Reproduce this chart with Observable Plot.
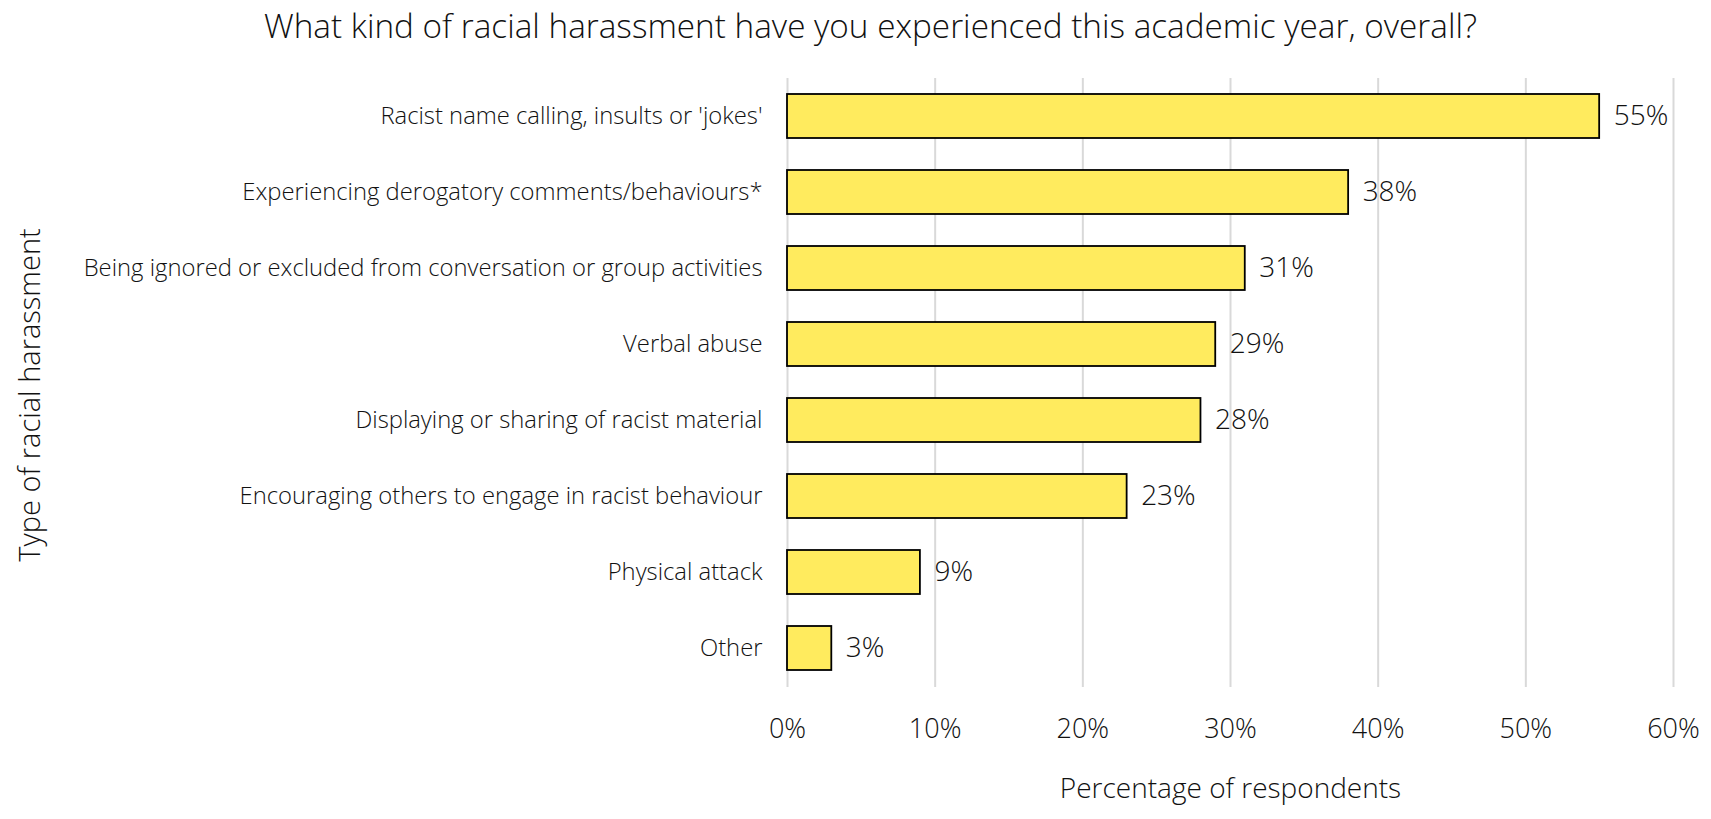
<!DOCTYPE html>
<html>
<head>
<meta charset="utf-8">
<script src="https://cdn.jsdelivr.net/npm/d3@7"></script>
<script src="https://cdn.jsdelivr.net/npm/@observablehq/plot@0.6"></script>
<style>
  html, body { margin: 0; padding: 0; background: #fff; }
  body { width: 1711px; height: 819px; overflow: hidden; font-family: "Open Sans", "Segoe UI", sans-serif; }
  #title { height: 55px; line-height: 50px; text-align: center; font-size: 33.3px; font-weight: 300; color: #111; padding-left: 30px; }
  svg { display: block; }
</style>
</head>
<body>
<div id="title">What kind of racial harassment have you experienced this academic year, overall?</div>
<div id="chart"></div>
<script>
const categories = [
  "Racist name calling, insults or 'jokes'",
  "Experiencing derogatory comments/behaviours*",
  "Being ignored or excluded from conversation or group activities",
  "Verbal abuse",
  "Displaying or sharing of racist material",
  "Encouraging others to engage in racist behaviour",
  "Physical attack",
  "Other"
];
const values = [55, 38, 31, 29, 28, 23, 9, 3];
const xTicks = [0, 10, 20, 30, 40, 50, 60];

const data = categories.map((c, i) => ({category: c, value: values[i]}));

const chart = Plot.plot({
  width: 1711,
  height: 764,
  marginLeft: 787,
  marginRight: 38,
  marginTop: 23,
  marginBottom: 132,
  style: {fontFamily: "'Open Sans', sans-serif", color: "#111", background: "#fff"},
  x: {domain: [0, 60], ticks: xTicks, tickFormat: d => d + "%", label: null},
  y: {domain: categories, paddingInner: 0.42, paddingOuter: 0.21, label: null},
  marks: [
    Plot.gridX(xTicks, {stroke: "#d9d9d9", strokeWidth: 2, strokeOpacity: 1}),
    Plot.barX(data, {y: "category", x: "value", fill: "#FFEB5E", stroke: "#000", strokeWidth: 1.8}),
    Plot.text(data, {y: "category", x: "value", text: d => d.value + "%", textAnchor: "start", dx: 14, fontSize: 28, fontWeight: 300, fill: "#111"}),
    Plot.axisX(xTicks, {tickSize: 0, tickPadding: 31, fontSize: 27, fontWeight: 300, tickFormat: d => d + "%", label: null}),
    Plot.axisY(categories, {tickSize: 0, tickPadding: 25, fontSize: 23.8, fontWeight: 300, label: null}),
    Plot.text(["Percentage of respondents"], {frameAnchor: "bottom", dy: 110, fontSize: 28, fontWeight: 300, fill: "#111"}),
    Plot.text(["Type of racial harassment"], {frameAnchor: "left", textAnchor: "middle", dx: -757, dy: 12, rotate: -90, fontSize: 29, fontWeight: 300, fill: "#111"})
  ]
});
document.getElementById("chart").appendChild(chart);
</script>
</body>
</html>
